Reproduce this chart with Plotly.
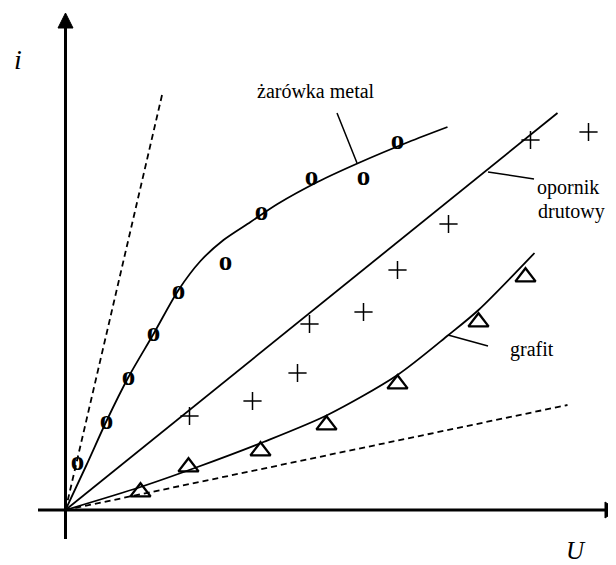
import plotly.graph_objects as go

# ---- data (U, i in arbitrary units; origin at 0,0) ----
lamp_U = [12, 41, 63, 88, 113, 160, 196, 246, 298, 332]
lamp_I = [47, 88, 132, 176, 218, 247, 297, 332, 332, 368]
lamp_curve_U = [0, 21, 41, 63, 88, 113, 135, 158, 185, 212, 252, 293, 343, 382]
lamp_curve_I = [0, 45, 89, 133, 176, 220, 249, 270, 288, 306, 328, 347, 368, 383]

wire_U = [124, 187, 232, 244, 298, 332, 383, 465, 523]
wire_I = [94, 109, 137, 186, 198, 240, 286, 370, 378]
wire_line_U = [0, 492]
wire_line_I = [0, 397]

graph_U = [75, 123, 195, 261, 332, 413, 460]
graph_I = [18, 43, 59, 85, 126, 188, 233]
graph_curve_U = [0, 75, 132, 198, 262, 332, 383, 413, 469]
graph_curve_I = [0, 23, 43, 68, 95, 135, 175, 200, 257]

dash_steep_U = [0, 97]
dash_steep_I = [0, 417]
dash_flat_U = [0, 502]
dash_flat_I = [0, 105]

labels = ["żarówka metal", "opornik", "drutowy", "grafit"]

SERIF = "Times New Roman"

fig = go.Figure()

for xs, ys in [(dash_steep_U, dash_steep_I), (dash_flat_U, dash_flat_I)]:
    fig.add_trace(go.Scatter(x=xs, y=ys, mode="lines",
                             line=dict(color="black", width=1.8, dash="6px,4px"),
                             hoverinfo="skip"))

fig.add_trace(go.Scatter(x=lamp_curve_U, y=lamp_curve_I, mode="lines",
                         line=dict(color="black", width=1.8, shape="spline", smoothing=0.8)))
fig.add_trace(go.Scatter(x=wire_line_U, y=wire_line_I, mode="lines",
                         line=dict(color="black", width=1.8)))
fig.add_trace(go.Scatter(x=graph_curve_U, y=graph_curve_I, mode="lines",
                         line=dict(color="black", width=1.8, shape="spline", smoothing=0.8)))

fig.add_trace(go.Scatter(x=lamp_U, y=lamp_I, mode="text", text=["o"] * len(lamp_U),
                         textposition="middle center",
                         textfont=dict(family=SERIF, size=27, color="black", weight="bold")))
fig.add_trace(go.Scatter(x=wire_U, y=wire_I, mode="markers",
                         marker=dict(symbol="cross-thin-open", size=13, color="black",
                                     line=dict(color="black", width=1.5))))
fig.add_trace(go.Scatter(x=graph_U, y=graph_I, mode="markers",
                         marker=dict(symbol="triangle-up-open", size=17.5, color="black",
                                     line=dict(color="black", width=2.3))))

shapes = []
shapes.append(dict(type="line", x0=-27.5, y0=0, x1=540, y1=0, line=dict(color="black", width=3)))
shapes.append(dict(type="line", x0=0, y0=-29, x1=0, y1=483, line=dict(color="black", width=3)))
shapes.append(dict(type="path", path="M 0 497 L -7.5 482 L 7.5 482 Z",
                   fillcolor="black", line=dict(color="black", width=1)))
shapes.append(dict(type="path", path="M 551.5 0 L 539.5 8 L 539.5 -8 Z",
                   fillcolor="black", line=dict(color="black", width=1)))
for (x0, y0, x1, y1) in [(271.5, 397, 291.5, 347), (422.5, 338, 468.5, 331), (382.5, 175, 422.5, 164)]:
    shapes.append(dict(type="line", x0=x0, y0=y0, x1=x1, y1=y1, line=dict(color="black", width=1.5)))

ann = []
ann.append(dict(x=250.5, y=419, text=labels[0], showarrow=False,
                font=dict(family=SERIF, size=20, color="black"), xanchor="center", yanchor="middle"))
ann.append(dict(x=469.5, y=323, text=labels[1], showarrow=False,
                font=dict(family=SERIF, size=20, color="black"), xanchor="left", yanchor="middle"))
ann.append(dict(x=470.5, y=299, text=labels[2], showarrow=False,
                font=dict(family=SERIF, size=20, color="black"), xanchor="left", yanchor="middle"))
ann.append(dict(x=442.5, y=161, text=labels[3], showarrow=False,
                font=dict(family=SERIF, size=20, color="black"), xanchor="left", yanchor="middle"))
ann.append(dict(x=-47.5, y=451, text="<i>i</i>", showarrow=False,
                font=dict(family=SERIF, size=28, color="black"), xanchor="center", yanchor="middle"))
ann.append(dict(x=510.5, y=-40, text="<i>U</i>", showarrow=False,
                font=dict(family=SERIF, size=25, color="black"), xanchor="center", yanchor="middle"))

# page body has an 8px margin, so the figure is 608x557 and offset accordingly
fig.update_layout(
    width=608, height=557,
    margin=dict(l=0, r=0, t=0, b=0),
    paper_bgcolor="white", plot_bgcolor="white",
    font=dict(family=SERIF, color="black"),
    showlegend=False,
    xaxis=dict(range=[-57.5, 550.5], visible=False, fixedrange=True),
    yaxis=dict(range=[-55, 502], visible=False, fixedrange=True),
    shapes=shapes, annotations=ann,
)

fig.write_html("out.html")
